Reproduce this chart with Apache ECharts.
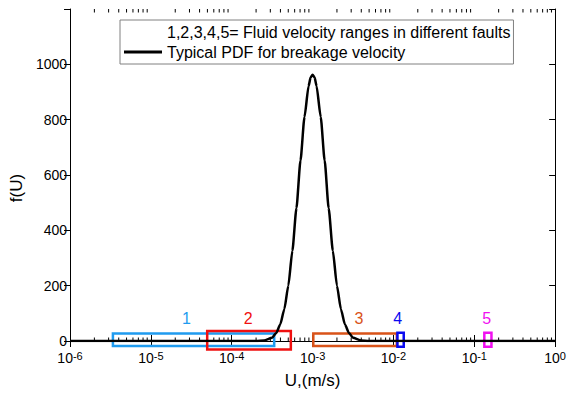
<!DOCTYPE html>
<html>
<head>
<meta charset="utf-8">
<script src="https://cdn.jsdelivr.net/npm/echarts@6/dist/echarts.min.js"></script>
<style>html,body{margin:0;padding:0;background:#fff}#c{width:569px;height:394px}</style>
</head>
<body>
<div id="c"></div>
<script>
// ---- data ----
const legendNames = ['1,2,3,4,5= Fluid velocity ranges in different faults', 'Typical PDF for breakage velocity'];
const pdfU = [1e-6, 1e-5, 1e-4, 2.00e-4, 2.51e-4, 3.16e-4, 3.55e-4, 3.98e-4, 4.47e-4, 5.01e-4, 5.62e-4, 6.31e-4, 7.08e-4, 7.94e-4, 8.91e-4, 9.44e-4, 1.00e-3, 1.06e-3, 1.12e-3, 1.26e-3, 1.41e-3, 1.58e-3, 1.78e-3, 2.00e-3, 2.24e-3, 2.51e-3, 2.82e-3, 3.16e-3, 3.98e-3, 5.01e-3, 1e-2, 1e-1, 1];
const pdfF = [0, 0, 0, 0, 2, 12, 29, 60, 115, 200, 326, 480, 652, 810, 921, 952, 962, 952, 921, 810, 652, 480, 326, 200, 115, 60, 29, 12, 2, 0, 0, 0, 0];
const rangeLow = [3.39e-6, 4.97e-5, 1.02e-3, 1.12e-2, 0.133];
const rangeHigh = [3.35e-4, 5.38e-4, 1.10e-2, 1.34e-2, 0.163];
const rangeBottom = [-18, -31, -18, -21, -21];
const rangeTop = [27, 36, 27, 30, 30];
const rangeLabels = ['1', '2', '3', '4', '5'];
const labelU = [2.76e-5, 1.6e-4, 3.74e-3, 1.13e-2, 0.142];
const labelF = [83, 83, 83, 83, 83];
const yTickMax = 1000;
const minorTicks = [2e-6,3e-6,4e-6,5e-6,6e-6,7e-6,8e-6,9e-6,
  2e-5,3e-5,4e-5,5e-5,6e-5,7e-5,8e-5,9e-5,
  2e-4,3e-4,4e-4,5e-4,6e-4,7e-4,8e-4,9e-4,
  2e-3,3e-3,4e-3,5e-3,6e-3,7e-3,8e-3,9e-3,
  2e-2,3e-2,4e-2,5e-2,6e-2,7e-2,8e-2,9e-2,
  0.2,0.3,0.4,0.5,0.6,0.7,0.8,0.9];

// ---- styles ----
const FONT = 'Liberation Sans, Arial, sans-serif';
const rangeColors = ['#1f9bef', '#f01010', '#d95319', '#0a0af0', '#f010f0'];
const Y_MIN = 0, Y_MAX = 1200;

const chart = echarts.init(document.getElementById('c'), null, {renderer: 'svg'});

const rectData = rangeLow.map((v, i) => [v, rangeHigh[i], rangeBottom[i], rangeTop[i]]);
const labelData = labelU.map((v, i) => [v, labelF[i], i]);

const xLabelFmt = function (v) {
  const e = Math.round(Math.log10(v));
  return '{b|10}{e|' + e + '}';
};

chart.setOption({
  animation: false,
  backgroundColor: '#fff',
  grid: {left: 70, right: 12, top: 9, bottom: 53, containLabel: false},
  legend: {
    left: 120, top: 20, orient: 'vertical',
    padding: [4, 3, 4, 4], itemGap: 4, itemWidth: 38, itemHeight: 14,
    borderColor: '#808080', borderWidth: 1, backgroundColor: '#fff',
    textStyle: {fontSize: 16, fontFamily: FONT, color: '#000'},
    data: [
      {name: legendNames[0], icon: 'none'},
      {name: legendNames[1], icon: 'path://M0,0H40V3H0Z', itemStyle: {color: '#000'}}
    ]
  },
  xAxis: [{
    type: 'log', logBase: 10, min: 1e-6, max: 1, position: 'bottom',
    name: 'U,(m/s)', nameLocation: 'middle', nameGap: 31,
    nameTextStyle: {fontSize: 17, fontFamily: FONT, color: '#000'},
    axisLine: {lineStyle: {color: '#000', width: 1}},
    axisTick: {inside: true, length: 6, lineStyle: {color: '#000'}},
    splitLine: {show: false}, minorTick: {show: false},
    axisLabel: {
      margin: 9, formatter: xLabelFmt, color: '#000', fontSize: 14,
      rich: {
        b: {fontSize: 14, fontFamily: FONT, color: '#000', lineHeight: 15, padding: [7, 0, 0, 0], verticalAlign: 'bottom'},
        e: {fontSize: 11, fontFamily: FONT, color: '#000', lineHeight: 12, verticalAlign: 'top'}
      }
    }
  }, {
    type: 'log', logBase: 10, min: 1e-6, max: 1, position: 'top',
    axisLine: {lineStyle: {color: '#000', width: 1}},
    axisTick: {inside: true, length: 6, lineStyle: {color: '#000'}},
    axisLabel: {show: false}, splitLine: {show: false}
  }],
  yAxis: [{
    type: 'value', min: Y_MIN, max: Y_MAX, interval: 200, position: 'left',
    name: 'f(U)', nameLocation: 'middle', nameGap: 44, nameRotate: 90,
    nameTextStyle: {fontSize: 17, fontFamily: FONT, color: '#000', padding: [0, 26, 0, 0]},
    axisLine: {show: true, lineStyle: {color: '#000', width: 1}},
    axisTick: {show: true, inside: false, length: 6, lineStyle: {color: '#000'}},
    splitLine: {show: false},
    axisLabel: {
      margin: 3, fontSize: 14, fontFamily: FONT, color: '#000',
      formatter: v => (v > yTickMax ? '' : String(v))
    }
  }, {
    type: 'value', min: Y_MIN, max: Y_MAX, interval: 200, position: 'right',
    axisLine: {show: true, lineStyle: {color: '#000', width: 1}},
    axisTick: {show: true, inside: true, length: 6, lineStyle: {color: '#000'}},
    axisLabel: {show: false}, splitLine: {show: false}
  }],
  series: [{
    name: legendNames[0],
    type: 'custom', xAxisIndex: 0, yAxisIndex: 0, z: 3,
    encode: {x: [0, 1], y: [2, 3]},
    data: rectData,
    renderItem: function (params, api) {
      const i = params.dataIndex;
      const p1 = api.coord([api.value(0), api.value(3)]);
      const p2 = api.coord([api.value(1), api.value(2)]);
      return {
        type: 'rect',
        shape: {x: p1[0], y: p1[1], width: p2[0] - p1[0], height: p2[1] - p1[1]},
        style: {fill: 'none', stroke: rangeColors[i], lineWidth: 2.5}
      };
    }
  }, {
    name: legendNames[1],
    type: 'line', xAxisIndex: 0, yAxisIndex: 0, z: 4,
    data: pdfU.map((u, i) => [u, pdfF[i]]),
    symbol: 'none', smooth: 0.2, smoothMonotone: 'x',
    itemStyle: {color: '#000'},
    lineStyle: {color: '#000', width: 2.5}
  }, {
    name: 'labels', type: 'custom', xAxisIndex: 0, yAxisIndex: 0, z: 5,
    encode: {x: 0, y: 1},
    data: labelData,
    renderItem: function (params, api) {
      const i = params.dataIndex;
      const p = api.coord([api.value(0), api.value(1)]);
      return {
        type: 'text', x: p[0], y: p[1],
        style: {text: rangeLabels[i], fill: rangeColors[i], fontSize: 16, fontFamily: FONT, align: 'center', verticalAlign: 'middle'}
      };
    }
  }, {
    name: 'minorTicks', type: 'custom', xAxisIndex: 0, yAxisIndex: 0, z: 2,
    encode: {x: 0},
    data: minorTicks.map(v => [v]),
    renderItem: function (params, api) {
      const b = api.coord([api.value(0), Y_MIN]);
      const t = api.coord([api.value(0), Y_MAX]);
      return {
        type: 'group', children: [
          {type: 'line', shape: {x1: b[0], y1: b[1], x2: b[0], y2: b[1] - 3.5}, style: {stroke: '#000', lineWidth: 1}},
          {type: 'line', shape: {x1: t[0], y1: t[1], x2: t[0], y2: t[1] + 3.5}, style: {stroke: '#000', lineWidth: 1}}
        ]
      };
    }
  }]
});
</script>
</body>
</html>
